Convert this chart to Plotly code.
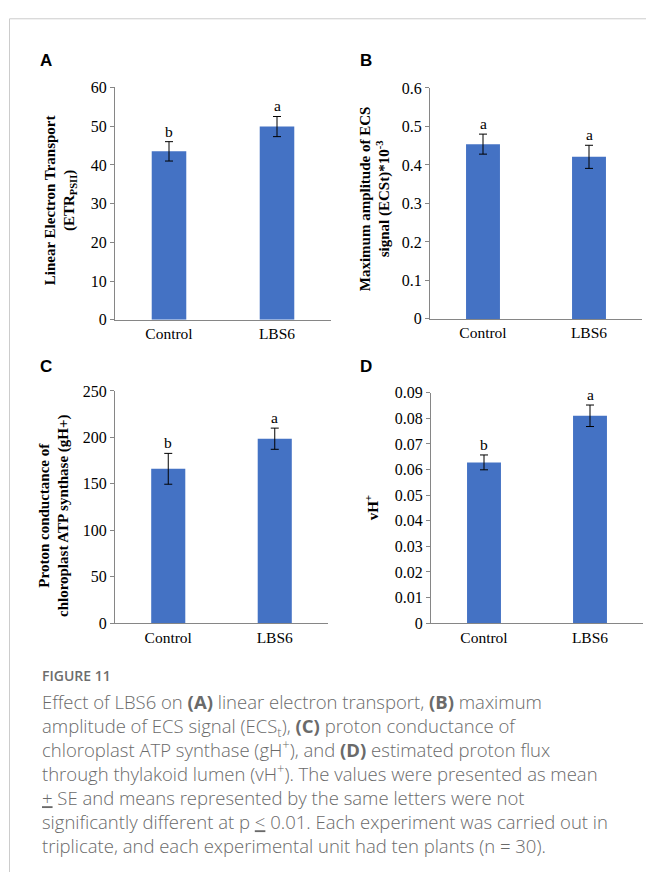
import plotly.graph_objects as go

W, H = 646, 881

categories = ["Control", "LBS6"]

etr_mean = [43.5, 49.9]
etr_se = [2.5, 2.6]
etr_letters = ["b", "a"]

ecs_mean = [0.454, 0.421]
ecs_se = [0.026, 0.030]
ecs_letters = ["a", "a"]

gh_mean = [166.2, 198.6]
gh_se = [16.6, 11.4]
gh_letters = ["b", "a"]

vh_mean = [0.0628, 0.081]
vh_se = [0.0029, 0.0042]
vh_letters = ["b", "a"]

y_ranges = [[0, 60], [0, 0.6], [0, 250], [0, 0.09]]
y_dticks = [10, 0.1, 50, 0.01]

panel_labels = ["A", "B", "C", "D"]
y_titles = [
    "Linear Electron Transport<br>(ETR<sub>PSII</sub>)",
    "Maximum amplitude of ECS<br>signal (ECSt)*10<sup>-3</sup>",
    "Proton conductance of<br>chloroplast ATP synthase (gH+)",
    "vH<sup>+</sup>",
]

caption_title = "FIGURE 11"
caption_lines = [
    "Effect of LBS6 on <b>(A)</b> linear electron transport, <b>(B)</b> maximum",
    "amplitude of ECS signal (ECS<sub>t</sub>), <b>(C)</b> proton conductance of",
    "chloroplast ATP synthase (gH<sup>+</sup>), and <b>(D)</b> estimated proton flux",
    "through thylakoid lumen (vH<sup>+</sup>). The values were presented as mean",
    "<u>+</u> SE and means represented by the same letters were not",
    "significantly different at p <u>&lt;</u> 0.01. Each experiment was carried out in",
    "triplicate, and each experimental unit had ten plants (n = 30).",
]

BAR = "#4472C4"
AXIS = "#868686"
SERIF = "Liberation Serif, Times New Roman, serif"
SANS = "Liberation Sans, Arial, sans-serif"
CAP_FONT = "Open Sans"


def px(x):
    return x / W


def py(y):
    return 1 - y / H


# pixel boxes of the four plot areas: (x0, x1, ytop, ybottom)
boxes = [
    (115, 331, 81, 318),
    (430, 642, 81.5, 317),
    (115, 328, 390.5, 627.3),
    (431, 643, 392.3, 627.3),
]
title_pos = [(61, 196), (375, 195), (54, 517), (372, 510)]
label_pos = [(46, 53.5), (366, 53.5), (46, 366), (366, 366)]

series = [
    (etr_mean, etr_se, etr_letters),
    (ecs_mean, ecs_se, ecs_letters),
    (gh_mean, gh_se, gh_letters),
    (vh_mean, vh_se, vh_letters),
]

fig = go.Figure()
annotations = []
for i, ((means, ses, letters), box) in enumerate(zip(series, boxes)):
    n = "" if i == 0 else str(i + 1)
    xa, ya = "x" + n, "y" + n
    fig.add_trace(go.Bar(
        x=categories, y=means, width=0.32,
        marker=dict(color=BAR, line=dict(width=0)),
        error_y=dict(type="data", array=ses, visible=True, color="#000000",
                     thickness=1, width=4),
        xaxis=xa, yaxis=ya, showlegend=False, hoverinfo="skip",
    ))
    x0, x1, yt, yb = box
    fig.layout["xaxis" + n] = dict(
        domain=[px(x0), px(x1)], anchor=ya, type="category",
        showline=True, linecolor=AXIS, linewidth=1, ticks="",
        showgrid=False, zeroline=False,
        tickfont=dict(family=SERIF, size=15.5, color="#000000"),
        fixedrange=True,
    )
    fig.layout["yaxis" + n] = dict(
        domain=[py(yb), py(yt)], anchor=xa, range=y_ranges[i], dtick=y_dticks[i],
        showline=True, linecolor=AXIS, linewidth=1, ticks="outside",
        ticklen=4, tickcolor=AXIS, showgrid=False, zeroline=False,
        tickfont=dict(family=SERIF, size=16, color="#000000"),
        fixedrange=True,
    )
    for c, m, s, l in zip(categories, means, ses, letters):
        annotations.append(dict(
            x=c, y=m + s, xref=xa, yref=ya, text=l, showarrow=False,
            yanchor="bottom", yshift=0,
            font=dict(family=SERIF, size=15.5, color="#000000"),
        ))
    tx, ty = title_pos[i]
    annotations.append(dict(
        x=px(tx), y=py(ty), xref="paper", yref="paper", text="<b>" + y_titles[i] + "</b>",
        textangle=-90, showarrow=False, xanchor="center", yanchor="middle",
        font=dict(family=SERIF, size=15, color="#000000"),
    ))
    lx, ly = label_pos[i]
    annotations.append(dict(
        x=px(lx), y=py(ly), xref="paper", yref="paper", text="<b>" + panel_labels[i] + "</b>",
        showarrow=False, xanchor="center", yanchor="middle",
        font=dict(family=SANS, size=17, color="#000000"),
    ))

annotations.append(dict(
    x=px(40), y=py(681), xref="paper", yref="paper", text=caption_title,
    showarrow=False, xanchor="left", yanchor="middle",
    font=dict(family=CAP_FONT, size=14, color="#6d6d6d", weight=600),
))
annotations.append(dict(
    x=px(40), y=py(781), xref="paper", yref="paper", text="<br>".join(caption_lines),
    showarrow=False, xanchor="left", yanchor="middle", align="left",
    font=dict(family=CAP_FONT, size=18.5, color="#6a6a6a", weight=300),
))

shapes = [
    dict(type="line", xref="paper", yref="paper", x0=px(9.5), x1=1, y0=py(11), y1=py(11),
         line=dict(color="#cccccc", width=1)),
    dict(type="line", xref="paper", yref="paper", x0=px(9.5), x1=px(9.5), y0=py(11), y1=0,
         line=dict(color="#cccccc", width=1)),
]

fig.update_layout(
    width=W, height=H, margin=dict(l=0, r=0, t=0, b=0),
    paper_bgcolor="#ffffff", plot_bgcolor="#ffffff",
    annotations=annotations, shapes=shapes, bargap=0.68,
)

fig.write_html("out.html", config={"displayModeBar": False})
